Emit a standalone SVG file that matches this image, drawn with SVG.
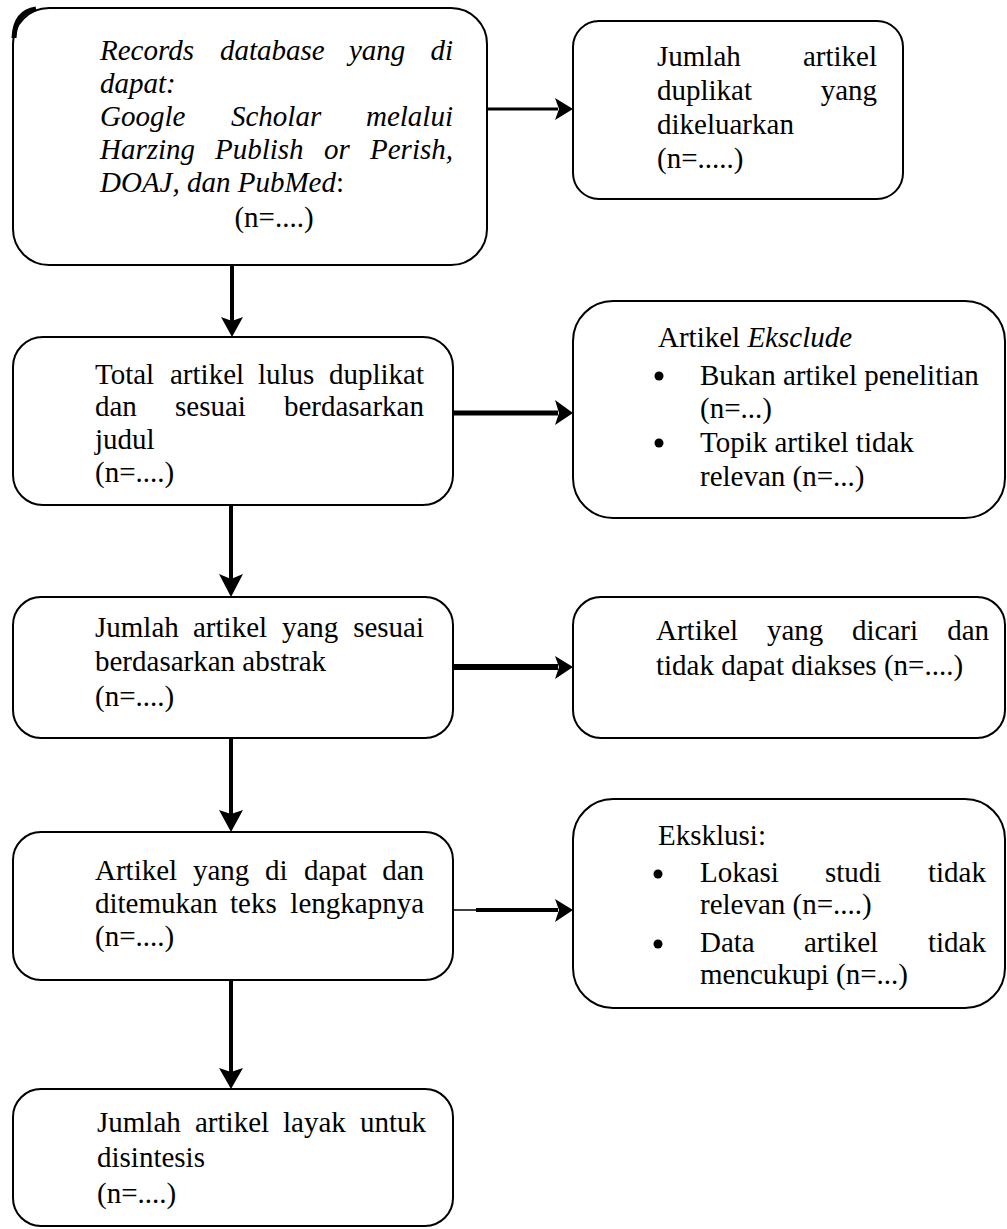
<svg xmlns="http://www.w3.org/2000/svg" width="1007" height="1229" viewBox="0 0 1007 1229">
<style>
.box{fill:#fff;stroke:#000;stroke-width:2}
.t{font-family:'Liberation Serif','Times New Roman','DejaVu Serif',serif;font-size:29px;fill:#000}
.i{font-style:italic}
.e{text-anchor:end}
.ln{stroke:#000;fill:none}
.hd{fill:#000}
</style>
<rect width="1007" height="1229" fill="#fff"/>
<g id="connectors">
<line class="ln" x1="487" y1="109" x2="558" y2="109" stroke-width="3"/>
<polygon class="hd" points="555,98 573,109 555,120 559,109"/>
<line class="ln" x1="232" y1="265" x2="232" y2="322" stroke-width="4"/>
<polygon class="hd" points="221,317 232,337 243,317 232,321"/>
<line class="ln" x1="453" y1="413" x2="558" y2="413" stroke-width="5"/>
<polygon class="hd" points="555,400 573,413 555,425 559,413"/>
<line class="ln" x1="231" y1="505" x2="231" y2="580" stroke-width="4"/>
<polygon class="hd" points="219,574 231,597 243,574 231,579"/>
<line class="ln" x1="453" y1="667" x2="558" y2="667" stroke-width="6"/>
<polygon class="hd" points="555,656 573,667 555,679 559,667"/>
<line class="ln" x1="231" y1="738" x2="231" y2="815" stroke-width="4"/>
<polygon class="hd" points="219,810 231,832 243,810 231,814"/>
<line class="ln" x1="453" y1="910" x2="478" y2="910" stroke-width="1.5"/>
<line class="ln" x1="476" y1="910" x2="558" y2="910" stroke-width="4"/>
<polygon class="hd" points="555,899 573,910 555,922 559,910"/>
<line class="ln" x1="231" y1="980" x2="231" y2="1072" stroke-width="4"/>
<polygon class="hd" points="219,1068 231,1089 243,1068 231,1072"/>
</g>
<g id="n1">
<rect class="box" x="13" y="8" width="474" height="257" rx="36"/>
<path d="M14,38 Q15,12 36,9" fill="none" stroke="#000" stroke-width="5"/>
<text class="t i" y="60"><tspan x="100">Records</tspan><tspan x="220">database</tspan><tspan x="349">yang</tspan></text>
<text class="t i e" x="453" y="60">di</text>
<text class="t i" x="100" y="93">dapat:</text>
<text class="t i" y="126"><tspan x="100">Google</tspan><tspan x="231">Scholar</tspan></text>
<text class="t i e" x="453" y="126">melalui</text>
<text class="t i" y="159"><tspan x="100">Harzing</tspan><tspan x="215">Publish</tspan><tspan x="324">or</tspan></text>
<text class="t i e" x="453" y="159">Perish,</text>
<text class="t" x="100" y="192"><tspan class="i">DOAJ, dan PubMed</tspan>:</text>
<text class="t" x="274" y="227" text-anchor="middle">(n=....)</text>
</g>
<g id="n2">
<rect class="box" x="573" y="21" width="330" height="178" rx="26"/>
<text class="t" x="657" y="66">Jumlah</text>
<text class="t e" x="877" y="66">artikel</text>
<text class="t" x="657" y="100">duplikat</text>
<text class="t e" x="877" y="100">yang</text>
<text class="t" x="657" y="134">dikeluarkan</text>
<text class="t" x="657" y="168">(n=.....)</text>
</g>
<g id="n3">
<rect class="box" x="13" y="337" width="440" height="168" rx="30"/>
<text class="t" y="384"><tspan x="95">Total</tspan><tspan x="170">artikel</tspan><tspan x="258">lulus</tspan></text>
<text class="t e" x="424" y="384">duplikat</text>
<text class="t" y="416"><tspan x="95">dan</tspan><tspan x="175">sesuai</tspan></text>
<text class="t e" x="424" y="416">berdasarkan</text>
<text class="t" x="95" y="449">judul</text>
<text class="t" x="95" y="482">(n=....)</text>
</g>
<g id="n4">
<rect class="box" x="573" y="301" width="432" height="217" rx="40"/>
<text class="t" x="658" y="347">Artikel <tspan class="i">Eksclude</tspan></text>
<circle cx="659" cy="376" r="4.5"/>
<text class="t" x="700" y="385">Bukan artikel penelitian</text>
<text class="t" x="700" y="418">(n=...)</text>
<circle cx="659" cy="443" r="4.5"/>
<text class="t" x="700" y="452">Topik artikel tidak</text>
<text class="t" x="700" y="486">relevan (n=...)</text>
</g>
<g id="n5">
<rect class="box" x="13" y="597" width="440" height="141" rx="28"/>
<text class="t" y="637"><tspan x="95">Jumlah</tspan><tspan x="193">artikel</tspan><tspan x="282">yang</tspan></text>
<text class="t e" x="424" y="637">sesuai</text>
<text class="t" x="95" y="671">berdasarkan abstrak</text>
<text class="t" x="95" y="706">(n=....)</text>
</g>
<g id="n6">
<rect class="box" x="573" y="597" width="432" height="141" rx="28"/>
<text class="t" y="640"><tspan x="656">Artikel</tspan><tspan x="767">yang</tspan><tspan x="852">dicari</tspan></text>
<text class="t e" x="989" y="640">dan</text>
<text class="t" x="656" y="675">tidak dapat diakses (n=....)</text>
</g>
<g id="n7">
<rect class="box" x="13" y="832" width="440" height="148" rx="28"/>
<text class="t" y="880"><tspan x="95">Artikel</tspan><tspan x="193">yang</tspan><tspan x="265">di</tspan><tspan x="304">dapat</tspan></text>
<text class="t e" x="424" y="880">dan</text>
<text class="t" y="913"><tspan x="95">ditemukan</tspan><tspan x="230">teks</tspan></text>
<text class="t e" x="424" y="913">lengkapnya</text>
<text class="t" x="95" y="946">(n=....)</text>
</g>
<g id="n8">
<rect class="box" x="573" y="799" width="432" height="209" rx="40"/>
<text class="t" x="658" y="845">Eksklusi:</text>
<circle cx="658" cy="874" r="4.5"/>
<text class="t" y="882"><tspan x="700">Lokasi</tspan><tspan x="825">studi</tspan></text>
<text class="t e" x="986" y="882">tidak</text>
<text class="t" x="700" y="914">relevan (n=....)</text>
<circle cx="658" cy="944" r="4.5"/>
<text class="t" y="952"><tspan x="700">Data</tspan><tspan x="804">artikel</tspan></text>
<text class="t e" x="986" y="952">tidak</text>
<text class="t" x="700" y="984">mencukupi (n=...)</text>
</g>
<g id="n9">
<rect class="box" x="13" y="1089" width="440" height="137" rx="28"/>
<text class="t" y="1132"><tspan x="97">Jumlah</tspan><tspan x="195">artikel</tspan><tspan x="283">layak</tspan></text>
<text class="t e" x="426" y="1132">untuk</text>
<text class="t" x="97" y="1167">disintesis</text>
<text class="t" x="97" y="1203">(n=....)</text>
</g>
</svg>
